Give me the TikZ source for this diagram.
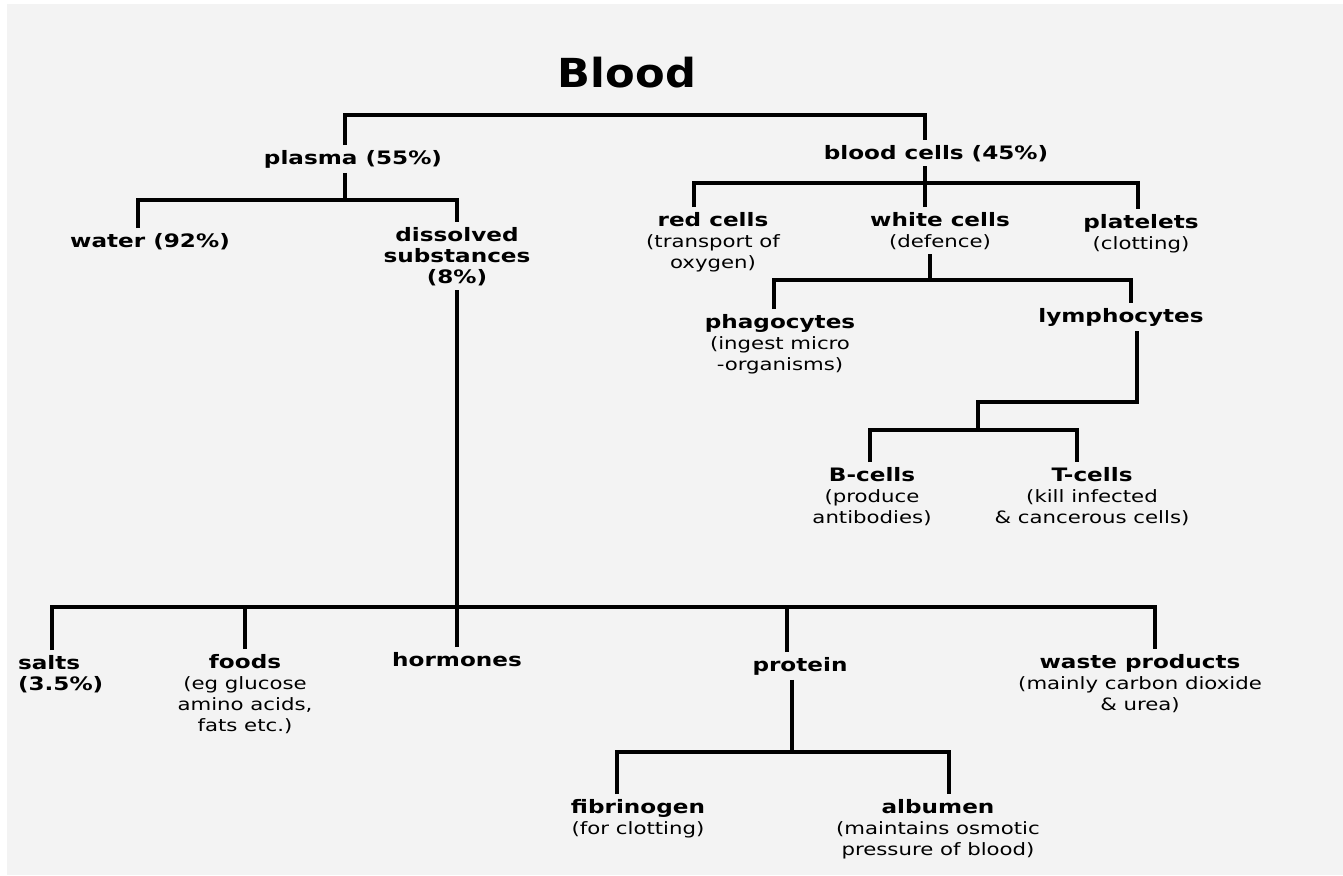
\documentclass[tikz,border=0pt]{standalone}
\usepackage{fontspec}
\newfontfamily\labfont[FakeStretch=1.25]{DejaVu Sans}
\newfontfamily\titlefont[FakeStretch=1.08]{DejaVu Sans}
\usepackage{xcolor}
\usetikzlibrary{positioning,calc}
\definecolor{paper}{RGB}{243,243,243}
\newcommand\note[1]{{\mdseries\fontsize{17}{21}\selectfont #1}}

\begin{document}
\begin{tikzpicture}[x=1pt,y=-1pt,
  lab/.style={font=\labfont\bfseries\fontsize{18.5}{21}\selectfont, align=center,
    inner sep=0pt, outer sep=5pt, anchor=north},
  branch/.style={line width=3.8pt, line join=miter}]

\fill[paper] (0,0) rectangle (1343,875);
\fill[white] (0,0) rectangle (7,875);
\fill[white] (0,0) rectangle (1343,4);
\useasboundingbox (0,0) rectangle (1343,875);

\node[font=\titlefont\bfseries\fontsize{40}{48}\selectfont, inner sep=0pt] (blood) at (627,73) {Blood};

% plasma side
\node[lab] (plasma) at (353,145) {plasma (55\%)};
\node[lab] (water) at (150,228) {water (92\%)};
\node[lab] (diss) at (457,222) {dissolved\\substances\\(8\%)};
\node[lab, anchor=north west, align=left] (salts) at (13,650) {salts\\(3.5\%)};
\node[lab] (foods) at (245,649) {foods\\ \note{(eg glucose}\\ \note{amino acids,}\\ \note{fats etc.)}};
\node[lab] (hormones) at (457,647) {hormones};
\node[lab] (protein) at (800,652) {protein};
\node[lab] (waste) at (1140,649) {waste products\\ \note{(mainly carbon dioxide}\\ \note{\& urea)}};
\node[lab] (fib) at (638,794) {fibrinogen\\ \note{(for clotting)}};
\node[lab] (alb) at (938,794) {albumen\\ \note{(maintains osmotic}\\ \note{pressure of blood)}};

% cells side
\node[lab] (cells) at (936,140) {blood cells (45\%)};
\node[lab] (red) at (713,207) {red cells\\ \note{(transport of}\\ \note{oxygen)}};
\node[lab] (white) at (940,207) {white cells\\ \note{(defence)}};
\node[lab] (plate) at (1141,209) {platelets\\ \note{(clotting)}};
\node[lab] (phago) at (780,309) {phagocytes\\ \note{(ingest micro}\\ \note{-organisms)}};
\node[lab] (lympho) at (1121,303) {lymphocytes};
\node[lab] (bcells) at (872,462) {B-cells\\ \note{(produce}\\ \note{antibodies)}};
\node[lab] (tcells) at (1092,462) {T-cells\\ \note{(kill infected}\\ \note{\& cancerous cells)}};

% junctions
\coordinate (jtop) at (640,115);
\coordinate (jp) at (345,200);
\coordinate (jd) at (457,607);
\coordinate (jq) at (792,752);
\coordinate (jc) at (925,183);
\coordinate (jw) at (930,280);
\coordinate (jl) at (978,402);
\coordinate (jb) at (978,430);

\draw[branch] ([xshift=-8pt]plasma.north) |- (jtop) -| ([xshift=-11pt]cells.north);

\draw[branch] ([xshift=-8pt]plasma.south) -- (jp);
\draw[branch] ([xshift=-12pt]water.north) |- (jp) -| (diss.north);
\draw[branch] (diss.south) -- (jd);
\draw[branch] ([xshift=-9pt]salts.north) |- (jd) -| ([xshift=15pt]waste.north);
\draw[branch] (foods.north) -- (foods.north |- jd);
\draw[branch] (hormones.north) -- (jd);
\draw[branch] ([xshift=-13pt]protein.north) -- ([xshift=-13pt]protein.north |- jd);
\draw[branch] ([xshift=-8pt]protein.south) -- (jq);
\draw[branch] ([xshift=-21pt]fib.north) |- (jq) -| ([xshift=11pt]alb.north);

\draw[branch] ([xshift=-11pt]cells.south) -- (jc);
\draw[branch] ([xshift=-19pt]red.north) |- (jc) -| ([xshift=-3pt]plate.north);
\draw[branch] ([xshift=-15pt]white.north) -- (jc);
\draw[branch] ([xshift=-10pt]white.south) -- (jw);
\draw[branch] ([xshift=-6pt]phago.north) |- (jw) -| ([xshift=10pt]lympho.north);
\draw[branch] ([xshift=16pt]lympho.south) |- (jl) -- (jb);
\draw[branch] ([xshift=-2pt]bcells.north) |- (jb) -| ([xshift=-15pt]tcells.north);
\end{tikzpicture}
\end{document}
